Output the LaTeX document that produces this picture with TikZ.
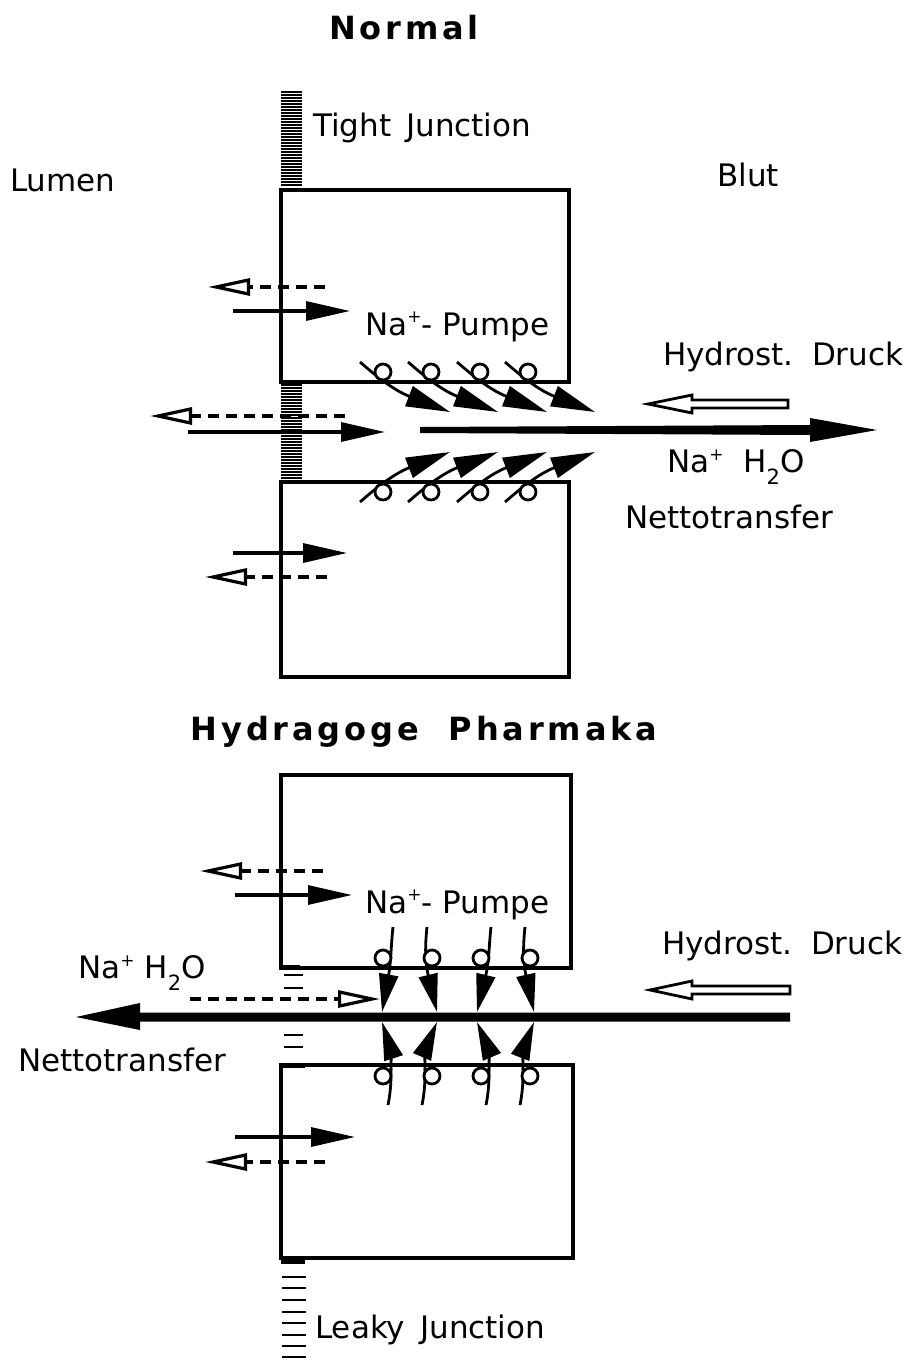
\documentclass[tikz,border=0pt]{standalone}
\usepackage{fontspec}
\setmainfont{DejaVu Sans}
\newfontfamily\ttlfont{DejaVu Sans}[LetterSpace=12]
\usetikzlibrary{arrows.meta}
\newcommand{\plus}{\raisebox{0.75ex}{\fontsize{17}{17}\selectfont +}}
\newcommand{\two}{\raisebox{-0.7ex}{\fontsize{21}{21}\selectfont 2}}
\begin{document}
\begin{tikzpicture}[x=1pt,y=-1pt,
  lbl/.style={font=\fontsize{31}{36}\selectfont, inner sep=0pt, anchor=west},
  ttl/.style={font=\ttlfont\bfseries\fontsize{32}{38}\selectfont, inner sep=0pt, anchor=center},
  cell/.style={draw, line width=3.4pt},
  solidarr/.style={line width=3.2pt, -{Triangle[length=44pt,width=19pt]}},
  openarr/.style={line width=3.2pt, dash pattern=on 11pt off 7pt, -{Triangle[open,length=42pt,width=17pt]}},
  pumpline/.style={line width=2.8pt, -{Triangle[length=44pt,width=21pt]}},
  vpump/.style={line width=2.8pt, -{Triangle[length=38pt,width=19pt]}},
  vline/.style={line width=2.8pt},
  pcirc/.style={draw, line width=2.8pt, fill=white},
  hatch/.style={line width=1.8pt},
  leak/.style={line width=2.8pt},
  hollow/.style={draw, line width=2.8pt, fill=white},
  bigarr/.style={fill=black}
]
\useasboundingbox (0,0) rectangle (916,1362);

% ---------- texts ----------
\node[ttl] (normal) at (404,28) {Normal};
\node[lbl] (tight) at (313,128) {Tight\, Junction};
\node[lbl] (lumen) at (10,180) {Lumen};
\node[lbl] (blut) at (717,175) {Blut};
\node[lbl] (pump1) at (365,327) {Na\plus- Pumpe};
\node[lbl] (hyd1) at (663,357) {Hydrost.\, Druck};
\node[lbl] (na1) at (667,467) {Na\plus\ \ H\two O};
\node[lbl] (net1) at (625,517) {Nettotransfer};
\node[ttl] (pharm) at (424,732) {Hydragoge\ \ Pharmaka};
\node[lbl] (pump2) at (365,905) {Na\plus- Pumpe};
\node[lbl] (hyd2) at (662,946) {Hydrost.\, Druck};
\node[lbl] (na2) at (78,973) {Na\plus\ H\two O};
\node[lbl] (net2) at (18,1060) {Nettotransfer};
\node[lbl] (leaky) at (315,1330) {Leaky\, Junction};

% ---------- tight junction hatching ----------
\foreach \y in {92,95,...,187} { \draw[hatch] (281,\y) -- (302,\y); }
\foreach \y in {385,388,...,481} { \draw[hatch] (281,\y) -- (302,\y); }

% ---------- cells ----------
\draw[cell] (281,190) rectangle (569,382);
\draw[cell] (281,482) rectangle (569,677);
\draw[cell] (281,775) rectangle (571,968);
\draw[cell] (281,1065) rectangle (573,1258);

% ---------- leaky junction ----------
\foreach \y in {975,988,1035,1047} { \draw[leak] (284,\y) -- (303,\y); }
\fill (281,965) rectangle (300,970);
\fill (281,1063) rectangle (305,1068);
\fill (281,1257) rectangle (305,1264);
\foreach \y in {1277,1288,1300,1312,1323,1335,1346,1357} { \draw[leak] (282,\y) -- (306,\y); }

% ---------- left arrows, top ----------
\draw[openarr] (325,287) -- (208,287);
\draw[solidarr] (233,311) -- (350,311);
\draw[openarr] (345,416) -- (150,416);
\draw[solidarr] (188,432) -- (385,432);
\draw[solidarr] (233,553) -- (347,553);
\draw[openarr] (327,577) -- (205,577);

% ---------- left arrows, bottom ----------
\draw[openarr] (323,871) -- (200,871);
\draw[solidarr] (235,895) -- (352,895);
\draw[solidarr] (235,1137) -- (355,1137);
\draw[openarr] (325,1162) -- (205,1162);
\draw[openarr] (190,999) -- (380,999);

% ---------- top pumps ----------
\foreach \cx in {383,431,480,528} {
  \draw[pumpline] (\cx-23,362) .. controls (\cx-8,375) and (\cx+10,390) .. (\cx+67,412);
  \draw[pcirc] (\cx,372) circle (8);
  \draw[pumpline] (\cx-23,502) .. controls (\cx-8,489) and (\cx+10,474) .. (\cx+67,452);
  \draw[pcirc] (\cx,492) circle (8);
}

% ---------- big net arrow top ----------
\fill[bigarr] (420,427) -- (810,425) -- (810,418) -- (877,430) -- (810,442) -- (810,435) -- (420,433) -- cycle;
\draw[hollow] (648,404) -- (692,395) -- (692,400) -- (788,400) -- (788,408) -- (692,408) -- (692,413) -- cycle;

% ---------- big net arrow bottom ----------
\fill[bigarr] (790,1012.5) -- (140,1012.5) -- (140,1003) -- (76,1017) -- (140,1030) -- (140,1021.5) -- (790,1021.5) -- cycle;
\draw[hollow] (650,990) -- (692,981) -- (692,986) -- (790,986) -- (790,994) -- (692,994) -- (692,999) -- cycle;

% ---------- bottom pumps ----------
\foreach \cx/\lx/\tx in {383/391/382, 432/425/437, 481/489/477, 530/523/534} {
  \draw[vpump] (\lx+2,927) .. controls (\lx,945) and (\lx,962) .. (\tx,1012);
  \draw[pcirc] (\cx,958) circle (8);
  \draw[vline] (\lx-3,1105) .. controls (\lx,1090) and (\lx,1080) .. (\lx,1068);
  \draw[vpump] (\lx,1070) .. controls (\lx,1060) and (\lx,1050) .. (\tx,1022);
  \draw[pcirc] (\cx,1076) circle (8);
}
\end{tikzpicture}
\end{document}
